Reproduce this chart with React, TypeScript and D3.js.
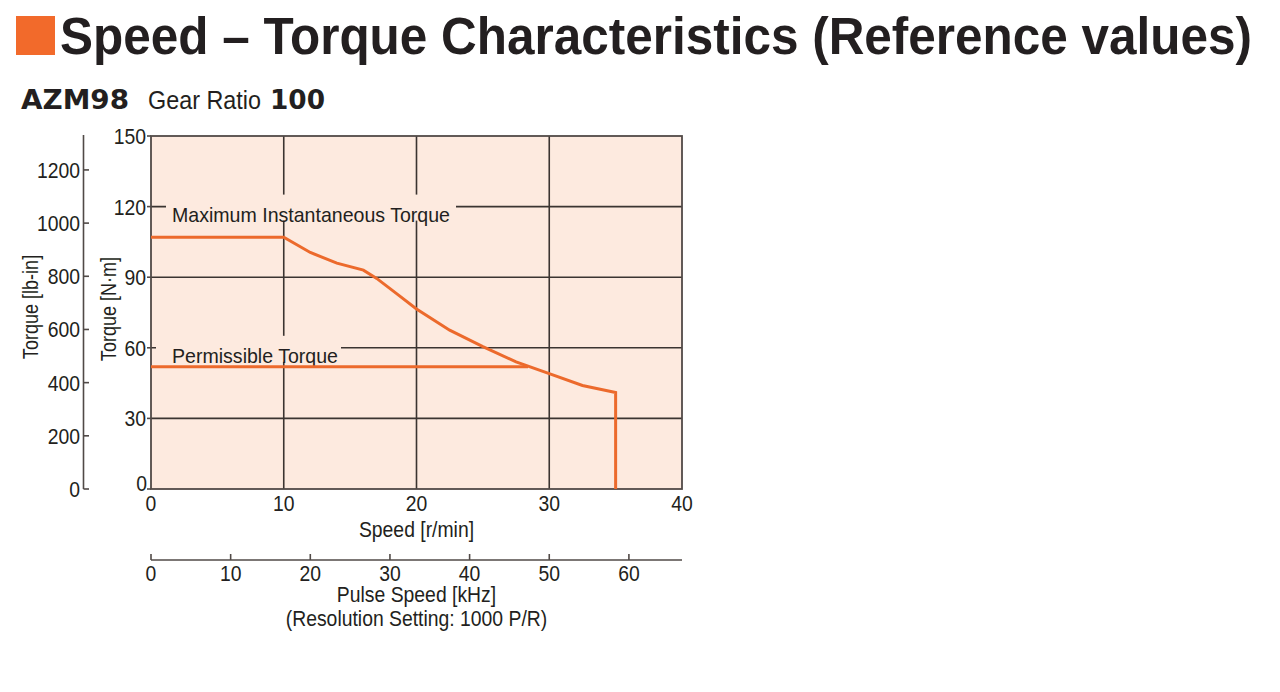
import React, { useEffect, useRef } from 'react';
import * as d3 from 'd3';

// Maximum instantaneous torque curve (speed r/min -> torque N·m)
const maxSpeed = [0, 10, 12, 14, 16, 17, 18.5, 20, 22.5, 25, 27.5, 30, 32.5, 35, 35];
const maxTorque = [107, 107, 100.5, 96, 93, 89.5, 83, 76.5, 67.5, 60.5, 54, 49, 44, 41, 0];

// Permissible torque line
const permSpeed = [0, 28.4];
const permTorque = [52, 52];

const speedTicks = [0, 10, 20, 30, 40];
const torqueNmTicks = [0, 30, 60, 90, 120, 150];
const torqueLbTicks = [0, 200, 400, 600, 800, 1000, 1200];
const pulseTicks = [0, 10, 20, 30, 40, 50, 60];

const NM_TO_LBIN = 8.8507;
const KHZ_PER_RPM = 100 * 1000 / 60 / 1000; // gear ratio 100, 1000 P/R

const W = 1280;
const H = 692;
const sans = '"Liberation Sans", Arial, sans-serif';
const ink = '#231f20';
const orange = '#ec6a2c';
const peach = '#fdeadf';
const axisGrey = '#514a47';

// squeeze text horizontally to mimic the condensed face of the original
const condense = (sel: d3.Selection<any, any, any, any>, k = 0.88) => {
  sel.each(function () {
    const node = this as SVGTextElement;
    const len = node.getComputedTextLength();
    d3.select(node).attr('textLength', len * k).attr('lengthAdjust', 'spacingAndGlyphs');
  });
};

const App: React.FC = () => {
  const svgRef = useRef<SVGSVGElement | null>(null);

  useEffect(() => {
    document.body.style.margin = '0';
    const svg = d3.select(svgRef.current);
    svg.selectAll('*').remove();

    const x = d3.scaleLinear().domain([0, 40]).range([151, 682]);
    const y = d3.scaleLinear().domain([0, 150]).range([489, 136]);
    const yLb = d3.scaleLinear().domain([0, 150 * NM_TO_LBIN]).range([489, 136]);
    const xPulse = d3.scaleLinear().domain([0, 40 * KHZ_PER_RPM]).range([151, 682]);

    svg.append('rect').attr('width', W).attr('height', H).attr('fill', '#fff');

    // heading
    svg.append('rect').attr('x', 16).attr('y', 16).attr('width', 39).attr('height', 39).attr('fill', '#f26a2b');
    svg.append('text')
      .attr('x', 60).attr('y', 54)
      .attr('font-family', sans).attr('font-weight', 'bold').attr('font-size', 51)
      .attr('textLength', 1192).attr('lengthAdjust', 'spacingAndGlyphs')
      .attr('fill', ink)
      .text('Speed – Torque Characteristics (Reference values)');

    svg.append('text')
      .attr('x', 21).attr('y', 109)
      .attr('font-family', '"DejaVu Sans", sans-serif').attr('font-weight', 'bold').attr('font-size', 26)
      .attr('textLength', 108).attr('lengthAdjust', 'spacingAndGlyphs')
      .attr('fill', ink).text('AZM98');
    svg.append('text')
      .attr('x', 148).attr('y', 109)
      .attr('font-family', sans).attr('font-size', 26)
      .attr('textLength', 113).attr('lengthAdjust', 'spacingAndGlyphs')
      .attr('fill', ink).text('Gear Ratio');
    svg.append('text')
      .attr('x', 270).attr('y', 109)
      .attr('font-family', '"DejaVu Sans", sans-serif').attr('font-weight', 'bold').attr('font-size', 26)
      .attr('textLength', 55).attr('lengthAdjust', 'spacingAndGlyphs')
      .attr('fill', ink).text('100');

    // plot background
    svg.append('rect')
      .attr('x', x(0)).attr('y', y(150))
      .attr('width', x(40) - x(0)).attr('height', y(0) - y(150))
      .attr('fill', peach);

    const grid = svg.append('g').attr('stroke', '#3b3431').attr('stroke-width', 1.6);
    grid.selectAll('line.v').data(speedTicks.slice(1, -1)).enter().append('line')
      .attr('x1', d => x(d)).attr('x2', d => x(d)).attr('y1', y(150)).attr('y2', y(0));
    grid.selectAll('line.h').data(torqueNmTicks.slice(1, -1)).enter().append('line')
      .attr('x1', x(0)).attr('x2', x(40)).attr('y1', d => y(d)).attr('y2', d => y(d));

    // curve labels with background that breaks the grid
    const labels = [
      { text: 'Maximum Instantaneous Torque', at: 120, x0: 166, x1: 456, len: 278 },
      { text: 'Permissible Torque', at: 60, x0: 156, x1: 341, len: 166 },
    ];
    labels.forEach(l => {
      svg.append('rect')
        .attr('x', l.x0).attr('y', y(l.at) - 12).attr('width', l.x1 - l.x0).attr('height', 26)
        .attr('fill', peach);
      svg.append('text')
        .attr('x', 172).attr('y', y(l.at) + 15)
        .attr('font-family', sans).attr('font-size', 21)
        .attr('textLength', l.len).attr('lengthAdjust', 'spacingAndGlyphs')
        .attr('fill', ink).text(l.text);
    });

    // plot frame
    svg.append('rect')
      .attr('x', x(0)).attr('y', y(150))
      .attr('width', x(40) - x(0)).attr('height', y(0) - y(150))
      .attr('fill', 'none').attr('stroke', axisGrey).attr('stroke-width', 1.8);

    // curves
    const line = d3.line<[number, number]>().x(d => x(d[0])).y(d => y(d[1]));
    svg.append('path')
      .attr('d', line(permSpeed.map((s, i) => [s, permTorque[i]] as [number, number])))
      .attr('fill', 'none').attr('stroke', orange).attr('stroke-width', 3);
    svg.append('path')
      .attr('d', line(maxSpeed.map((s, i) => [s, maxTorque[i]] as [number, number])))
      .attr('fill', 'none').attr('stroke', orange).attr('stroke-width', 3)
      .attr('stroke-linejoin', 'miter');

    const txt = (g: d3.Selection<any, any, any, any>) =>
      g.attr('font-family', sans).attr('font-size', 22).attr('fill', ink);

    // N·m axis
    const yAxis = svg.append('g').call(txt);
    yAxis.selectAll('line').data(torqueNmTicks).enter().append('line')
      .attr('x1', x(0) - 4).attr('x2', x(0)).attr('y1', d => y(d)).attr('y2', d => y(d))
      .attr('stroke', axisGrey).attr('stroke-width', 1.6);
    yAxis.selectAll('text').data(torqueNmTicks).enter().append('text')
      .attr('x', d => (d === 0 ? 147 : 146)).attr('y', d => y(d) + (d === 0 ? 2 : 8))
      .attr('text-anchor', 'end').text(d => d);

    // lb-in axis
    const lbAxis = svg.append('g').call(txt);
    lbAxis.append('line')
      .attr('x1', 83.5).attr('x2', 83.5).attr('y1', yLb(150 * NM_TO_LBIN) - 1).attr('y2', yLb(0))
      .attr('stroke', axisGrey).attr('stroke-width', 1.6);
    lbAxis.selectAll('line.t').data(torqueLbTicks).enter().append('line')
      .attr('x1', 83.5).attr('x2', 89).attr('y1', d => yLb(d)).attr('y2', d => yLb(d))
      .attr('stroke', axisGrey).attr('stroke-width', 1.6);
    lbAxis.selectAll('text').data(torqueLbTicks).enter().append('text')
      .attr('x', 80).attr('y', d => yLb(d) + 8)
      .attr('text-anchor', 'end').text(d => d);

    // speed axis labels
    const xAxis = svg.append('g').call(txt);
    xAxis.selectAll('text').data(speedTicks).enter().append('text')
      .attr('x', d => x(d)).attr('y', 511)
      .attr('text-anchor', 'middle').text(d => d);
    xAxis.append('text').attr('x', x(20)).attr('y', 537).attr('text-anchor', 'middle').text('Speed [r/min]');

    // pulse speed axis
    const pAxis = svg.append('g').call(txt);
    pAxis.append('line')
      .attr('x1', xPulse(0)).attr('x2', xPulse(40 * KHZ_PER_RPM)).attr('y1', 560).attr('y2', 560)
      .attr('stroke', axisGrey).attr('stroke-width', 1.6);
    pAxis.selectAll('line.t').data(pulseTicks).enter().append('line')
      .attr('x1', d => xPulse(d)).attr('x2', d => xPulse(d)).attr('y1', 554).attr('y2', 560)
      .attr('stroke', axisGrey).attr('stroke-width', 1.6);
    pAxis.selectAll('text').data(pulseTicks).enter().append('text')
      .attr('x', d => xPulse(d)).attr('y', 581)
      .attr('text-anchor', 'middle').text(d => d);
    pAxis.append('text').attr('x', x(20)).attr('y', 602).attr('text-anchor', 'middle').text('Pulse Speed [kHz]');
    pAxis.append('text').attr('x', x(20)).attr('y', 626).attr('text-anchor', 'middle').text('(Resolution Setting: 1000 P/R)');

    // axis titles
    const titles = svg.append('g').call(txt);
    titles.append('text')
      .attr('transform', 'translate(38,307) rotate(-90)').attr('text-anchor', 'middle')
      .text('Torque [lb-in]');
    titles.append('text')
      .attr('transform', 'translate(116,309) rotate(-90)').attr('text-anchor', 'middle')
      .text('Torque [N·m]');

    [yAxis, lbAxis, xAxis, pAxis].forEach(g => condense(g.selectAll('text')));
    condense(titles.selectAll('text'), 0.82);
  }, []);

  return <svg ref={svgRef} width={W} height={H} style={{ display: 'block' }}></svg>;
};

export default App;
